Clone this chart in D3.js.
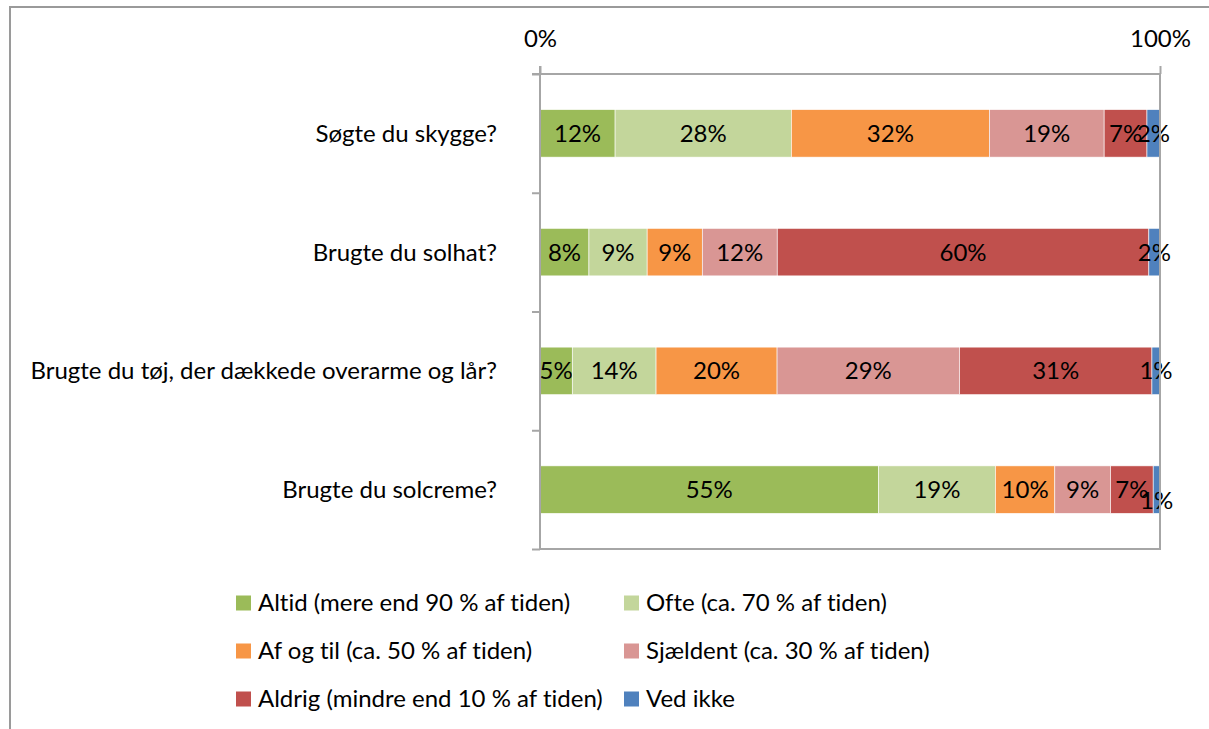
<!DOCTYPE html>
<html>
<head>
<meta charset="utf-8">
<script src="https://cdn.jsdelivr.net/npm/d3@7"></script>
<style>
  body { margin: 0; background: #fff; }
  text { font-family: Lato, "Open Sans", sans-serif; fill: #000; font-variant-ligatures: none; }
</style>
</head>
<body>
<div id="chart"></div>
<script>
// questions (top to bottom)
var categories = ["Søgte du skygge?", "Brugte du solhat?", "Brugte du tøj, der dækkede overarme og lår?", "Brugte du solcreme?"];

// answer shares in percent, one array per answer, same order as categories
var altid    = [12.1, 7.9, 5.2, 54.7];
var ofte     = [28.4, 9.4, 13.5, 18.9];
var afOgTil  = [31.9, 8.9, 19.5, 9.6];
var sjaeldent = [18.5, 12.1, 29.4, 9.0];
var aldrig   = [6.9, 60.0, 31.0, 6.9];
var vedIkke  = [2.1, 1.8, 1.3, 1.1];

var seriesNames = ["Altid (mere end 90 % af tiden)", "Ofte (ca. 70 % af tiden)", "Af og til (ca. 50 % af tiden)",
                   "Sjældent (ca. 30 % af tiden)", "Aldrig (mindre end 10 % af tiden)", "Ved ikke"];
var seriesValues = [altid, ofte, afOgTil, sjaeldent, aldrig, vedIkke];
var colors = ["#9BBB59", "#C3D69B", "#F79646", "#D99694", "#C0504D", "#4F81BD"];
var tickValues = [0, 1];

// build rows for d3.stack
var rows = categories.map(function(c, i) {
  var r = {cat: c};
  seriesNames.forEach(function(s, j) { r[s] = seriesValues[j][i]; });
  return r;
});

var width = 1209, height = 729;
var plot = {left: 540, right: 1160, top: 74, bottom: 549};
var fontSize = "24px";

var svg = d3.select("#chart").append("svg")
  .attr("width", width)
  .attr("height", height);

// outer frame (only left and top edges visible)
svg.append("path")
  .attr("d", "M10," + height + "V7H" + width)
  .attr("fill", "none")
  .attr("stroke", "#9a9a9a")
  .attr("stroke-width", 2);

var x = d3.scaleLinear().domain([0, 1]).range([plot.left, plot.right]);
var y = d3.scaleBand().domain(categories).range([plot.top, plot.bottom]).paddingInner(0.6).paddingOuter(0.3);
var yLine = d3.scaleLinear().domain([0, categories.length]).range([plot.top, plot.bottom]);

var stack = d3.stack().keys(seriesNames).offset(d3.stackOffsetExpand);
var stacked = stack(rows);

// bars
var groups = svg.selectAll("g.series")
  .data(stacked)
  .enter().append("g")
  .attr("class", "series")
  .attr("fill", function(d, i) { return colors[i]; });

groups.selectAll("rect")
  .data(function(d) { return d; })
  .enter().append("rect")
  .attr("x", function(d) { return x(d[0]); })
  .attr("y", function(d) { return y(d.data.cat); })
  .attr("width", function(d) { return x(d[1]) - x(d[0]); })
  .attr("height", y.bandwidth())
  .attr("stroke", "#fff")
  .attr("stroke-width", 0.6);

// plot border right + bottom
svg.append("path")
  .attr("d", "M" + plot.left + "," + plot.bottom + "H" + plot.right + "V" + plot.top)
  .attr("fill", "none")
  .attr("stroke", "#a6a6a6")
  .attr("stroke-width", 2);

// top value axis
var topAxis = svg.append("g")
  .attr("transform", "translate(0," + plot.top + ")")
  .call(d3.axisTop(x).tickValues(tickValues).tickFormat(d3.format(".0%")).tickSize(8).tickPadding(19));
topAxis.select(".domain").attr("stroke", "#a6a6a6").attr("stroke-width", 2)
  .attr("d", "M" + (plot.left - 8) + ",0H" + plot.right);
topAxis.selectAll(".tick line").attr("stroke", "#a6a6a6").attr("stroke-width", 2);
topAxis.selectAll("text").style("font-size", fontSize).style("font-family", "Lato, sans-serif").attr("fill", "#000");

// left category axis: tick marks between categories
var leftAxis = svg.append("g")
  .attr("transform", "translate(" + plot.left + ",0)")
  .call(d3.axisLeft(yLine).ticks(categories.length).tickSize(8).tickFormat(""));
leftAxis.select(".domain").attr("stroke", "#a6a6a6").attr("stroke-width", 2)
  .attr("d", "M0," + (plot.top - 8) + "V" + plot.bottom);
leftAxis.selectAll(".tick line").attr("stroke", "#a6a6a6").attr("stroke-width", 2);

// category labels
svg.append("g")
  .selectAll("text")
  .data(categories)
  .enter().append("text")
  .attr("x", plot.left - 43)
  .attr("y", function(d) { return y(d) + y.bandwidth() / 2; })
  .attr("dy", "0.35em")
  .attr("text-anchor", "end")
  .style("font-size", fontSize)
  .text(function(d) { return d; });

// data labels
groups.each(function(s, si) {
  d3.select(this).selectAll("text")
    .data(s.map(function(d, i) { return {d: d, v: seriesValues[si][i], row: i}; }))
    .enter().append("text")
    .attr("x", function(o) { return x((o.d[0] + o.d[1]) / 2); })
    .attr("y", function(o) { return y(o.d.data.cat) + y.bandwidth() / 2; })
    .attr("dy", function(o) { return (si === 5 && o.row === 3) ? "0.8em" : "0.35em"; })
    .attr("text-anchor", "middle")
    .attr("fill", "#000")
    .style("font-size", fontSize)
    .text(function(o) { return Math.round(o.v) + "%"; });
});

// legend
var legendRows = [0, 1, 2];
var legendX = [236, 624];
var legend = svg.append("g").selectAll("g")
  .data(seriesNames)
  .enter().append("g")
  .attr("transform", function(d, i) {
    return "translate(" + legendX[i % 2] + "," + (603 + 48 * legendRows[Math.floor(i / 2)]) + ")";
  });
legend.append("rect")
  .attr("x", 0).attr("y", -7.5)
  .attr("width", 15).attr("height", 15)
  .attr("fill", function(d, i) { return colors[i]; });
legend.append("text")
  .attr("x", 22)
  .attr("dy", "0.35em")
  .style("font-size", fontSize)
  .text(function(d) { return d; });
</script>
</body>
</html>
